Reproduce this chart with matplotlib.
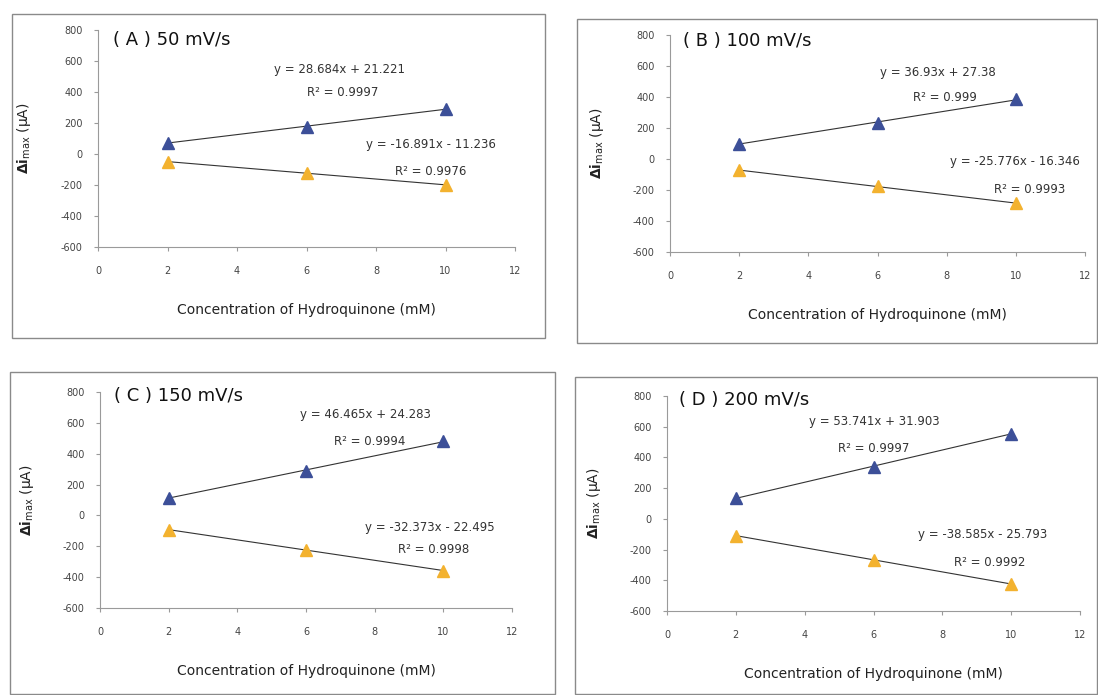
import matplotlib
matplotlib.use('Agg')
import matplotlib.pyplot as plt
from matplotlib.patches import Rectangle
import numpy as np

plt.rcParams['font.family'] = ['DejaVu Sans']
plt.rcParams['mathtext.fontset'] = 'dejavusans'
plt.rcParams['axes.unicode_minus'] = False

# data
conc = [2, 6, 10]
panel_titles = ['( A ) 50 mV/s', '( B ) 100 mV/s', '( C ) 150 mV/s', '( D ) 200 mV/s']

anodic = [[72, 177, 290],
          [100, 232, 385],
          [115, 290, 480],
          [135, 340, 555]]
cathodic = [[-50, -122, -200],
            [-72, -177, -285],
            [-92, -225, -357],
            [-110, -265, -425]]

# trendline labels as printed
anodic_eq = ['y = 28.684x + 21.221', 'y = 36.93x + 27.38', 'y = 46.465x + 24.283', 'y = 53.741x + 31.903']
anodic_r2 = ['R² = 0.9997', 'R² = 0.999', 'R² = 0.9994', 'R² = 0.9997']
cathodic_eq = ['y = -16.891x - 11.236', 'y = -25.776x - 16.346', 'y = -32.373x - 22.495', 'y = -38.585x - 25.793']
cathodic_r2 = ['R² = 0.9976', 'R² = 0.9993', 'R² = 0.9998', 'R² = 0.9992']

W, H = 1098, 695
fig = plt.figure(figsize=(W / 100, H / 100), dpi=100)

# axes placement in pixels: (x0, x12, y800, y-600)
ax_px = [(98, 515, 30, 247), (670, 1085, 35, 252), (100, 512, 392, 608), (667, 1080, 396, 611)]
# panel frames in pixels: (left, top, right, bottom)
box_px = [(12, 14, 545, 338), (577, 19, 1097, 343), (10, 372, 555, 694), (575, 377, 1097, 694)]
# text positions in data coords
title_pos = [(0.43, 736), (0.38, 761), (0.41, 774), (0.35, 774)]
aeq_pos = [(6.96, 543), (7.75, 561), (7.72, 657), (6.01, 637)]
ar2_pos = [(7.05, 395), (7.95, 394), (7.86, 482), (6.01, 455)]
ceq_pos = [(9.58, 62), (9.98, -19), (9.61, -75), (9.18, -105)]
cr2_pos = [(9.58, -112), (10.4, -194), (9.73, -224), (9.38, -281)]

blue = '#3c4f98'
orange = '#f3b22f'
grey = '#9a9a9a'

for i in range(4):
    bl, bt, br, bb = box_px[i]
    fig.patches.append(Rectangle((bl / W, 1 - bb / H), (br - bl) / W, (bb - bt) / H,
                                 transform=fig.transFigure, fill=False,
                                 edgecolor='#8a8a8a', linewidth=1.0))

    x0, x1, y0, y1 = ax_px[i]
    ax = fig.add_axes([x0 / W, 1 - y1 / H, (x1 - x0) / W, (y1 - y0) / H])
    ax.set_xlim(0, 12)
    ax.set_ylim(-600, 800)
    ax.set_xticks(range(0, 13, 2))
    ax.set_yticks(range(-600, 801, 200))
    for s in ['top', 'right']:
        ax.spines[s].set_visible(False)
    for s in ['left', 'bottom']:
        ax.spines[s].set_color(grey)
        ax.spines[s].set_linewidth(0.8)
    ax.tick_params(axis='both', colors=grey, length=3, width=0.8, labelsize=7, labelcolor='#444444')
    ax.tick_params(axis='x', pad=11)
    ax.tick_params(axis='y', pad=8)

    # linear trendlines through the points
    xs = np.array([conc[0], conc[-1]])
    sa, ia = np.polyfit(conc, anodic[i], 1)
    sc, ic = np.polyfit(conc, cathodic[i], 1)
    ax.plot(xs, sa * xs + ia, color='#333333', lw=0.8, zorder=2)
    ax.plot(xs, sc * xs + ic, color='#333333', lw=0.8, zorder=2)
    ax.plot(conc, anodic[i], linestyle='none', marker='^', markersize=8, color=blue, zorder=3)
    ax.plot(conc, cathodic[i], linestyle='none', marker='^', markersize=8, color=orange, zorder=3)

    ax.text(*title_pos[i], panel_titles[i], fontsize=13, ha='left', va='center', color='#111111')
    ax.text(*aeq_pos[i], anodic_eq[i], fontsize=8.5, ha='center', va='center', color='#333333')
    ax.text(*ar2_pos[i], anodic_r2[i], fontsize=8.5, ha='center', va='center', color='#333333')
    ax.text(*ceq_pos[i], cathodic_eq[i], fontsize=8.5, ha='center', va='center', color='#333333')
    ax.text(*cr2_pos[i], cathodic_r2[i], fontsize=8.5, ha='center', va='center', color='#333333')

    ax.set_xlabel('Concentration of Hydroquinone (mM)', fontsize=10, color='#222222')
    ax.xaxis.set_label_coords(0.5, -0.26)
    ax.set_ylabel(r'$\mathbf{\Delta i}_{\mathrm{max}}$ (μA)', fontsize=10, color='#222222')
    ax.yaxis.set_label_coords(-0.155, 0.5)

fig.savefig('out.png', dpi=100)
